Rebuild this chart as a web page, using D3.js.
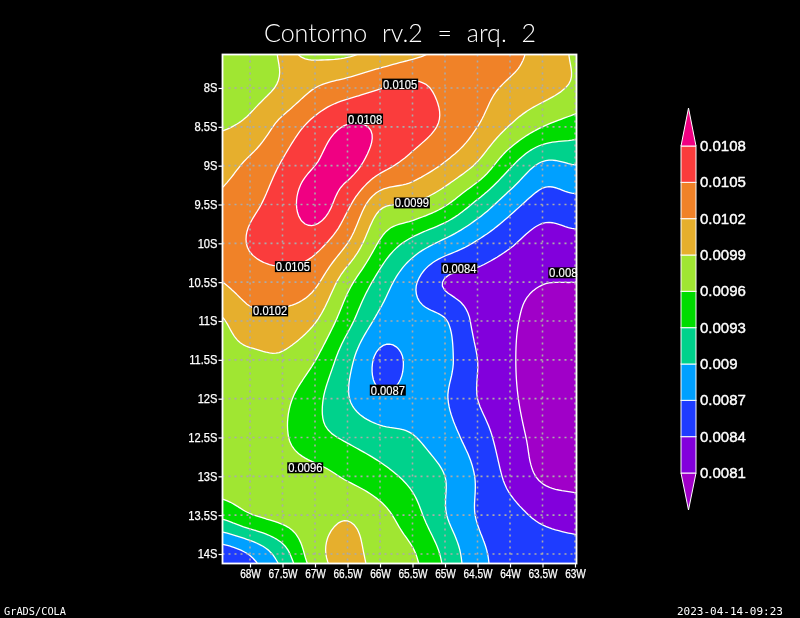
<!DOCTYPE html>
<html><head><meta charset="utf-8">
<script src="https://cdn.jsdelivr.net/npm/d3@7"></script>
<style>html,body{margin:0;padding:0;background:#000;overflow:hidden}svg{display:block;will-change:transform}</style>
</head><body><svg id="c" width="800" height="618"></svg>
<script>
const titleText = "Contorno rv.2 = arq. 2";
const footerLeft = "GrADS/COLA";
const footerRight = "2023-04-14-09:23";
const lonTicks = [68,67.5,67,66.5,66,65.5,65,64.5,64,63.5,63];
const latTicks = [8,8.5,9,9.5,10,10.5,11,11.5,12,12.5,13,13.5,14];
const gridLons = [68.5,68,67.5,67,66.5,66,65.5,65,64.5,64,63.5,63,62.5];
const gridLats = [7.5,8,8.5,9,9.5,10,10.5,11,11.5,12,12.5,13,13.5,14,14.5];
// values x 1e-4, one row per latitude
const lat075 = [96.8,97.1,99.2,98.2,98.2,99.6,101,102.5,103.5,102.8,101,98.5,96];
const lat080 = [97,97.8,99.5,102,103.5,104.9,105.7,104.2,103,101.5,100.2,98.5,97];
const lat085 = [98.7,99.8,103,106,108.2,107.6,106.2,104.5,102,98.8,96,94.5,93.5];
const lat090 = [100.7,102.7,105.3,108,109,106,103.8,101.6,98.5,93.4,89.4,89.9,90];
const lat095 = [102.5,104.4,106.3,109.6,105.6,99.7,98.8,96.3,92.2,88.2,85.6,86,86];
const lat100 = [103,105.2,106,106,102,95.6,92,89.2,86.6,84.4,82.6,83,83];
const lat105 = [101.8,103.5,104,102.6,97,91.8,87.6,83.8,83,82,81.1,81,80.8];
const lat110 = [98.5,101,101,99.2,94,89.2,88,87.2,83.2,81.5,79.8,79.5,79.3];
const lat115 = [98,98.3,98.5,96.1,91,86.4,87.4,87.7,84,81.4,79.5,79,79];
const lat120 = [98,97.8,96.7,93.9,90.2,87.5,87.9,87.2,84,81.6,79.5,79,79];
const lat125 = [98,97.7,96.4,94,92.6,91.2,90.2,88.2,85.5,82.3,80,79.5,79.3];
const lat130 = [98,97.7,97.4,97,95.6,94,92.2,90,86.7,83.2,80.6,80,79.8];
const lat135 = [93.5,95.8,97,97.8,98.7,96.9,94.2,90.2,86.8,85,83.4,82.7,82.4];
const lat140 = [85,87.2,91.6,97.8,100,97.6,96.3,92.3,87.8,86,85.4,85,84.8];
const lat145 = [83,85,89,95.5,100,98.5,97,93,88,86,85.5,85,85];
const gridRows = [lat075,lat080,lat085,lat090,lat095,lat100,lat105,lat110,lat115,lat120,lat125,lat130,lat135,lat140,lat145];
const levels = [0.0081,0.0084,0.0087,0.009,0.0093,0.0096,0.0099,0.0102,0.0105,0.0108];
const levelLabels = ["0.0081","0.0084","0.0087","0.009","0.0093","0.0096","0.0099","0.0102","0.0105","0.0108"];
const fillColors = ["rgb(160,0,200)","rgb(130,0,220)","rgb(30,60,255)","rgb(0,160,255)","rgb(0,210,140)","rgb(0,220,0)","rgb(160,230,50)","rgb(230,175,45)","rgb(240,130,40)","rgb(250,60,60)","rgb(240,0,130)"];
const contourLabelText = ["0.0105","0.0108","0.0099","0.0105","0.0102","0.0084","0.008","0.0087","0.0096"];
const contourLabelLon = [65.69,66.23,65.51,67.34,67.69,64.78,63.18,65.88,67.15];
const contourLabelLat = [7.95,8.40,9.48,10.30,10.87,10.32,10.38,11.89,12.89];

const svg = d3.select("#c");
const sans = "'Liberation Sans',Arial,sans-serif";
svg.append("rect").attr("width",800).attr("height",618).attr("fill","#000");
const x = d3.scaleLinear().domain([68,63]).range([250,575]);
const y = d3.scaleLinear().domain([8,14]).range([88,554]);
const L=222.5,R=576.5,T=54.5,B=563.5;
svg.append("clipPath").attr("id","plot").append("rect").attr("x",L).attr("y",T).attr("width",R-L).attr("height",B-T);

// Catmull-Rom resampling for smooth contours (display only, like GrADS cterp)
const k=10, nc=gridLons.length, nr=gridLats.length;
const W=(nc-1)*k+1, H=(nr-1)*k+1;
const cr=(a,b,c,d,t)=>0.5*((2*b)+(-a+c)*t+(2*a-5*b+4*c-d)*t*t+(-a+3*b-3*c+d)*t*t*t);
const at=(r,c)=>gridRows[Math.max(0,Math.min(nr-1,r))][Math.max(0,Math.min(nc-1,c))];
const fine=new Float64Array(W*H);
for(let j=0;j<H;j++){const rf=j/k,r0=Math.min(nr-2,Math.floor(rf)),tr=rf-r0;
 for(let i=0;i<W;i++){const cf=i/k,c0=Math.min(nc-2,Math.floor(cf)),tc=cf-c0;
  const col=[-1,0,1,2].map(dr=>cr(at(r0+dr,c0-1),at(r0+dr,c0),at(r0+dr,c0+1),at(r0+dr,c0+2),tc));
  fine[j*W+i]=cr(col[0],col[1],col[2],col[3],tr);
 }}
const thresholds=levels.map(v=>Math.round(v*1e4));
const contours=d3.contours().size([W,H]).smooth(true).thresholds(thresholds)(fine);
const lonOf=d3.scaleLinear().domain([0,nc-1]).range([gridLons[0],gridLons[nc-1]]);
const latOf=d3.scaleLinear().domain([0,nr-1]).range([gridLats[0],gridLats[nr-1]]);
const path=d3.geoPath(d3.geoTransform({point(px,py){this.stream.point(x(lonOf((px-0.5)/k)),y(latOf((py-0.5)/k)));}}));

const plot=svg.append("g").attr("clip-path","url(#plot)");
plot.append("rect").attr("x",L).attr("y",T).attr("width",R-L).attr("height",B-T).attr("fill",fillColors[0]);
plot.selectAll("path.f").data(contours).join("path").attr("class","f").attr("d",path).attr("fill",(d,i)=>fillColors[i+1]).attr("stroke",(d,i)=>fillColors[i+1]).attr("stroke-width",0.3);
plot.selectAll("path.l").data(contours).join("path").attr("class","l").attr("d",path).attr("fill","none").attr("stroke","#fff").attr("stroke-width",1.3);

// dotted grid
const grid=svg.append("g").attr("stroke","rgb(170,170,170)").attr("stroke-width",1.6).attr("stroke-dasharray","2 4");
grid.selectAll("line.v").data(lonTicks).join("line").attr("class","v").attr("x1",d=>x(d)).attr("x2",d=>x(d)).attr("y1",T).attr("y2",B);
grid.selectAll("line.h").data(latTicks).join("line").attr("class","h").attr("y1",d=>y(d)).attr("y2",d=>y(d)).attr("x1",L).attr("x2",R);

// contour labels
const cl=svg.append("g").selectAll("g").data(contourLabelText).join("g")
 .attr("transform",(d,i)=>`translate(${x(contourLabelLon[i])},${y(contourLabelLat[i])})`);
cl.append("rect").attr("x",d=>-d.length*3).attr("y",-5.5).attr("width",d=>d.length*6).attr("height",11).attr("fill","#000");
cl.append("text").text(d=>d).attr("text-anchor","middle").attr("y",4.5).attr("fill","#fff").attr("stroke","#fff").attr("stroke-width",0.15)
 .attr("font-family",sans).attr("font-size",12).attr("textLength",d=>d.length*5.7).attr("lengthAdjust","spacingAndGlyphs");

// frame + axes
svg.append("rect").attr("x",L).attr("y",T).attr("width",R-L).attr("height",B-T).attr("fill","none").attr("stroke","#fff").attr("stroke-width",1.8);
const axB=svg.append("g").attr("transform",`translate(0,${B})`).call(d3.axisBottom(x).tickValues(lonTicks).tickFormat(d=>d+"W").tickSize(4).tickPadding(2));
const axL=svg.append("g").attr("transform",`translate(${L},0)`).call(d3.axisLeft(y).tickValues(latTicks).tickFormat(d=>d+"S").tickSize(4).tickPadding(1));
[axB,axL].forEach((a,n)=>{a.select(".domain").remove();a.selectAll("line").attr("stroke","#fff").attr("stroke-width",1.2);
 a.selectAll("text").attr("fill","#fff").attr("stroke","#fff").attr("stroke-width",0.25).attr("font-family",sans).attr("font-size",12)
  .each(function(){const s=this.getComputedTextLength();this.setAttribute("textLength",s*(n?0.93:0.84));this.setAttribute("lengthAdjust","spacingAndGlyphs");});});

// colour bar
const cb=d3.scaleLinear().domain([levels[0],levels[levels.length-1]]).range([473,146]);
const bx0=681,bx1=696,bmid=688.5;
const bar=svg.append("g").attr("stroke","#fff").attr("stroke-width",1);
bar.append("path").attr("d",`M${bx0},${cb(levels[0])}L${bx1},${cb(levels[0])}L${bmid},510Z`).attr("fill",fillColors[0]);
bar.selectAll("rect").data(d3.range(levels.length-1)).join("rect").attr("x",bx0).attr("width",bx1-bx0)
 .attr("y",i=>cb(levels[i+1])).attr("height",i=>cb(levels[i])-cb(levels[i+1])).attr("fill",i=>fillColors[i+1]);
bar.append("path").attr("d",`M${bx0},${cb(levels[9])}L${bx1},${cb(levels[9])}L${bmid},108Z`).attr("fill",fillColors[10]);
svg.append("g").selectAll("text").data(levels).join("text").text((d,i)=>levelLabels[i])
 .attr("x",700).attr("y",d=>cb(d)+5).attr("fill","#fff").attr("stroke","#fff").attr("stroke-width",0.4).attr("font-family",sans).attr("font-size",15);

// title & footer
svg.append("text").text(titleText).attr("x",264).attr("y",42).attr("textLength",272).attr("lengthAdjust","spacingAndGlyphs").attr("word-spacing",8)
 .attr("fill","#fff").attr("font-family","Lato,'Noto Sans',sans-serif").attr("font-weight",300).attr("font-size",25);
svg.append("text").text(footerLeft).attr("x",4).attr("y",615).attr("textLength",62).attr("lengthAdjust","spacingAndGlyphs")
 .attr("fill","#fff").attr("font-family","'DejaVu Sans Mono',monospace").attr("font-size",11);
svg.append("text").text(footerRight).attr("x",677).attr("y",615).attr("textLength",106).attr("lengthAdjust","spacingAndGlyphs")
 .attr("fill","#fff").attr("font-family","'DejaVu Sans Mono',monospace").attr("font-size",11);
</script></body></html>
